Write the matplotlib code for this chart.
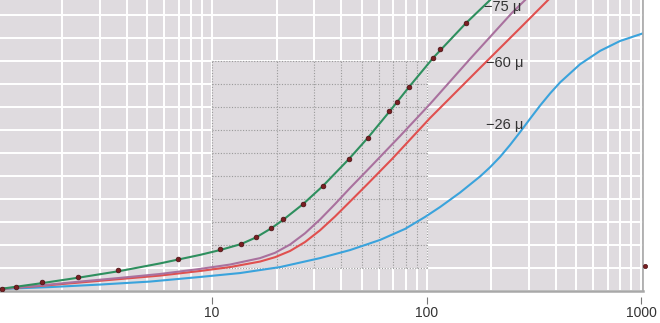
import matplotlib
matplotlib.use("Agg")
import matplotlib.pyplot as plt
from matplotlib.patches import Rectangle

plt.rcParams['font.family'] = ['Liberation Sans', 'DejaVu Sans']

# curve data (x log scale, y in grid units)
green_x = [1.03, 1.578, 2.425, 3.725, 5.722, 8.79, 10.9, 13.65, 16.04, 18.84, 21.43, 26.58,
           32.9, 43.49, 53.37, 66.88, 82.85, 107.2, 152.8, 197.7]
green_y = [0.09, 0.33, 0.59, 0.87, 1.20, 1.57, 1.78, 2.04, 2.33, 2.72, 3.09, 3.78,
           4.57, 5.74, 6.67, 7.78, 8.87, 10.13, 11.65, 12.65]

dots_x = [1.05, 1.22, 1.61, 2.37, 3.65, 6.94, 10.9, 13.7, 16.0, 18.8, 21.4, 26.6, 32.9, 43.5,
          53.4, 66.9, 72.8, 82.8, 107, 116, 153]
dots_y = [0.09, 0.17, 0.39, 0.61, 0.91, 1.39, 1.83, 2.04, 2.35, 2.74, 3.13, 3.78, 4.57, 5.72,
          6.65, 7.83, 8.22, 8.87, 10.13, 10.52, 11.65]

purple_x = [1.03, 1.578, 2.425, 3.725, 5.722, 8.79, 12.13, 16.74, 19.67, 23.1, 27.14, 31.88,
            37.45, 44.0, 52.8, 75.3, 103.8, 159.5, 250, 288]
purple_y = [0.09, 0.24, 0.41, 0.57, 0.74, 0.96, 1.15, 1.43, 1.66, 2.02, 2.51, 3.11,
            3.78, 4.48, 5.24, 6.74, 8.13, 10.09, 12.09, 12.65]

red_x = [1.03, 1.578, 2.425, 3.725, 5.722, 8.79, 12.13, 16.74, 19.67, 23.1, 27.14, 31.88,
         37.45, 44.0, 52.8, 69.06, 103.8, 177.6, 272.9, 368.5]
red_y = [0.09, 0.22, 0.37, 0.52, 0.67, 0.87, 1.04, 1.28, 1.47, 1.74, 2.13, 2.64,
         3.24, 3.89, 4.63, 5.74, 7.52, 9.70, 11.43, 12.65]

blue_x = [1.03, 1.757, 3.006, 5.14, 8.79, 13.5, 20.75, 31.88, 44.0, 60.7, 79.4, 98.4, 115.6,
          143.3, 177.6, 197.7, 220.1, 245.1, 272.9, 303.8, 338.2, 376.6, 419.3, 519.6,
          644.1, 798.2, 989.2, 1011]
blue_y = [0.09, 0.17, 0.28, 0.41, 0.61, 0.78, 1.04, 1.43, 1.78, 2.22, 2.70, 3.22, 3.65,
          4.28, 4.98, 5.38, 5.83, 6.35, 6.91, 7.49, 8.06, 8.59, 9.07, 9.86,
          10.44, 10.87, 11.16, 11.19]

stray_x = [1045]
stray_y = [1.09]

labels = ['\u221275 \u03bc', '\u221260 \u03bc', '\u221226 \u03bc']
label_x = [227, 232, 232]
label_y = [12.35, 9.91, 7.22]

xticks = [10, 100, 1000]
xticklabels = ['10', '100', '1000']

bg = '#dfdbdf'

fig = plt.figure(figsize=(6.6, 3.23), dpi=100)
ax = fig.add_axes([0, 32 / 323, 643 / 660, 291 / 323])
ax.set_facecolor(bg)
ax.set_xscale('log')
ax.set_xlim(1.027, 1021)
ax.set_ylim(0, 291 / 23)

ax.set_yticks(range(13))
ax.set_xticks(xticks)
ax.set_xticklabels(xticklabels)
ax.set_axisbelow(True)
ax.grid(which='both', color='white', lw=1.4)

ax.tick_params(axis='y', length=0, labelleft=False)
ax.tick_params(axis='x', which='minor', length=0)
ax.tick_params(axis='x', which='major', length=5, width=0.8, color='#777777',
               pad=2, labelsize=10, labelcolor='#333333')

for s in ['top', 'left']:
    ax.spines[s].set_visible(False)
ax.spines['right'].set_color('#a8a8a8')
ax.spines['right'].set_linewidth(1.2)
ax.spines['bottom'].set_position(('outward', 4))
ax.spines['bottom'].set_visible(False)
ax.axhline(0, color='#a8a8a8', lw=1.8, zorder=1.5, clip_on=False)

# dotted zoom box from 10 to 100
ax.add_patch(Rectangle((10, 1), 90, 9, facecolor=bg, edgecolor='none', zorder=0.7))
for yy in range(1, 11):
    ax.plot([10, 100], [yy, yy], color='#9a9a9a', lw=0.8, ls=(0, (1, 1.5)), zorder=0.8)
for xx in range(10, 101, 10):
    ax.plot([xx, xx], [1, 10], color='#9a9a9a', lw=0.8, ls=(0, (1, 1.5)), zorder=0.8)

ax.plot(blue_x, blue_y, color='#3aa3dc', lw=1.5, zorder=2)
ax.plot(red_x, red_y, color='#e0504f', lw=1.5, zorder=2)
ax.plot(purple_x, purple_y, color='#a9719e', lw=1.5, zorder=2)
ax.plot(green_x, green_y, color='#2e8f5e', lw=1.5, zorder=2.5)
ax.plot(dots_x, dots_y, 'o', ms=3.4, color='#7a1f22', mec='#4a1014', mew=0.5, zorder=3)
ax.plot(stray_x, stray_y, 'o', ms=3, color='#7a1f22', mec='#4a1014', mew=0.5,
        zorder=3, clip_on=False)

for t, x, y in zip(labels, label_x, label_y):
    ax.text(x, y, t, ha='center', va='center', fontsize=10.5, color='#333333', zorder=4)

fig.savefig('out.png', dpi=100)
